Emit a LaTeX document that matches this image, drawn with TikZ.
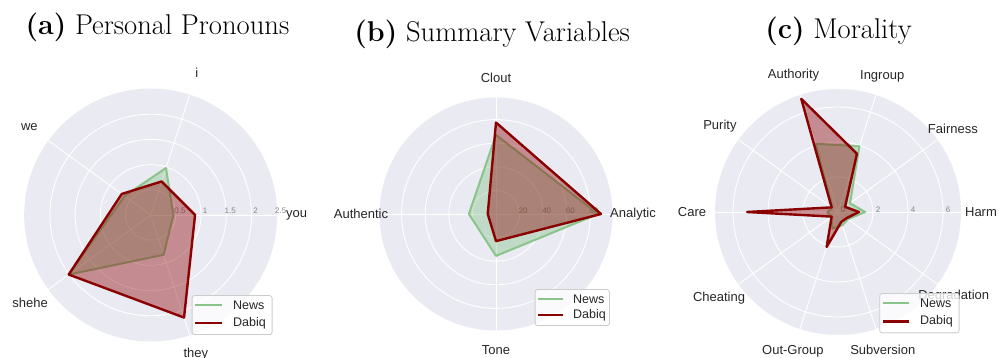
\documentclass[tikz,border=0pt]{standalone}
\usepackage{fontspec}
\newfontfamily\plotfont{Liberation Sans}
\definecolor{bgdisk}{RGB}{234,234,242}
\definecolor{labelgray}{RGB}{38,38,38}
\definecolor{tickgray}{RGB}{135,135,140}
\definecolor{newsline}{RGB}{138,196,138}
\definecolor{newsfillc}{RGB}{100,180,100}
\definecolor{dabiqred}{RGB}{139,0,0}
\definecolor{legendedge}{RGB}{204,204,204}
\begin{document}
\begin{tikzpicture}[x=1pt,y=1pt,
  disk/.style={fill=bgdisk},
  gridline/.style={draw=white,line width=0.9pt},
  ticklab/.style={font=\plotfont\fontsize{8}{9}\selectfont,text=tickgray,inner sep=0pt},
  axlab/.style={font=\plotfont\fontsize{13}{15}\selectfont,text=labelgray,inner sep=0pt},
  newsarea/.style={fill=newsfillc,fill opacity=0.3},
  newsedge/.style={draw=newsline,line width=2pt,line join=round},
  dabiqarea/.style={fill=dabiqred,fill opacity=0.4},
  dabiqedge/.style={draw=dabiqred,line width=2.4pt,line join=round},
  legbox/.style={draw=legendedge,line width=0.8pt,fill=white,fill opacity=0.8,rounded corners=2.5pt},
  legtext/.style={font=\plotfont\fontsize{12.5}{14}\selectfont,text=labelgray,anchor=west,inner sep=0pt},
  title/.style={font=\fontsize{28.6}{32}\selectfont,anchor=base,inner sep=0pt}]
\useasboundingbox (0,0) rectangle (999,358);

% ---------------- (a) Personal Pronouns ----------------
\node[title] (ta) at (157.5,323) {\textbf{(a)} Personal Pronouns};
\begin{scope}[shift={(150.7,143)}]
  \def\ua{50.4}
  \fill[disk] (0,0) circle (126.5);
  \foreach \r in {0.5,1,1.5,2} \draw[gridline] (0,0) circle ({\r*\ua});
  \foreach \a in {0,72,144,216,288} \draw[gridline] (0,0) -- (\a:126.5);
  \foreach \r/\t in {0.5/0.5,1/1,1.5/1.5,2/2,2.5/2.5}
    \node[ticklab] at ({\r*\ua+4},4.5) {\t};
  \path[newsarea] (0:{0.45*\ua}) -- (72:{0.98*\ua}) -- (144:{0.64*\ua}) -- (216:{2.01*\ua}) -- (288:{0.83*\ua}) -- cycle;
  \draw[newsedge] (0:{0.45*\ua}) -- (72:{0.98*\ua}) -- (144:{0.64*\ua}) -- (216:{2.01*\ua}) -- (288:{0.83*\ua}) -- cycle;
  \path[dabiqarea] (0:{0.88*\ua}) -- (72:{0.70*\ua}) -- (144:{0.71*\ua}) -- (216:{2.01*\ua}) -- (288:{2.14*\ua}) -- cycle;
  \draw[dabiqedge] (0:{0.88*\ua}) -- (72:{0.70*\ua}) -- (144:{0.71*\ua}) -- (216:{2.01*\ua}) -- (288:{2.14*\ua}) -- cycle;
  \node[axlab] (a-you) at (0:146) {you};
  \node[axlab] (a-i) at (72:149) {i};
  \node[axlab] (a-we) at (144:150) {we};
  \node[axlab] (a-shehe) at (216:149) {shehe};
  \node[axlab] (a-they) at (288:146) {they};
\end{scope}
% legend (a)
\node[legbox,minimum width=80pt,minimum height=39pt,anchor=south west] (lega) at (191.7,23) {};
\coordinate (la1) at (195,53);   \coordinate (la2) at (221.7,53);
\coordinate (la3) at (195,34.7); \coordinate (la4) at (221.7,34.7);
\draw[draw=newsline,line width=2pt] (la1) -- (la2);
\draw[draw=dabiqred,line width=2.4pt] (la3) -- (la4);
\node[legtext] (lan) at (233,53) {News};
\node[legtext] (lad) at (233,34.7) {Dabiq};

% ---------------- (b) Summary Variables ----------------
\node[title] (tb) at (492.2,316.3) {\textbf{(b)} Summary Variables};
\begin{scope}[shift={(496,144)}]
  \def\ub{1.18}
  \fill[disk] (0,0) circle (116.5);
  \foreach \r in {20,40,60,80} \draw[gridline] (0,0) circle ({\r*\ub});
  \foreach \a in {0,90,180,270} \draw[gridline] (0,0) -- (\a:116.5);
  \foreach \r in {20,40,60,80}
    \node[ticklab] at ({\r*\ub+3.5},3.5) {\r};
  \path[newsarea] (0:{86.5*\ub}) -- (90:{67*\ub}) -- (180:{23*\ub}) -- (270:{35.5*\ub}) -- cycle;
  \draw[newsedge] (0:{86.5*\ub}) -- (90:{67*\ub}) -- (180:{23*\ub}) -- (270:{35.5*\ub}) -- cycle;
  \path[dabiqarea] (0:{89*\ub}) -- (90:{77.5*\ub}) -- (180:{7*\ub}) -- (270:{23*\ub}) -- cycle;
  \draw[dabiqedge] (0:{89*\ub}) -- (90:{77.5*\ub}) -- (180:{7*\ub}) -- (270:{23*\ub}) -- cycle;
  \node[axlab] (b-an) at (0:137) {Analytic};
  \node[axlab] (b-cl) at (90:136) {Clout};
  \node[axlab] (b-au) at (180:135) {Authentic};
  \node[axlab] (b-to) at (270:136) {Tone};
\end{scope}
% legend (b)
\node[legbox,minimum width=74.3pt,minimum height=36pt,anchor=south west] (legb) at (534.7,32) {};
\coordinate (lb1) at (538,59);   \coordinate (lb2) at (563,59);
\coordinate (lb3) at (538,43);   \coordinate (lb4) at (563,43);
\draw[draw=newsline,line width=2pt] (lb1) -- (lb2);
\draw[draw=dabiqred,line width=2.4pt] (lb3) -- (lb4);
\node[legtext] (lbn) at (573,59) {News};
\node[legtext] (lbd) at (573,43) {Dabiq};

% ---------------- (c) Morality ----------------
\node[title] (tc) at (838.5,319.7) {\textbf{(c)} Morality};
\begin{scope}[shift={(838,146)}]
  \def\uc{17.5}
  \fill[disk] (0,0) circle (123);
  \foreach \r in {2,4,6} \draw[gridline] (0,0) circle ({\r*\uc});
  \foreach \a in {0,36,...,324} \draw[gridline] (0,0) -- (\a:123);
  \foreach \r in {0,2,4,6}
    \node[ticklab] at ({\r*\uc+5},2.5) {\r};
  \path[newsarea] (0:{1.55*\uc}) -- (36:{0.85*\uc}) -- (72:{3.95*\uc}) -- (108:{4.1*\uc}) -- (144:{0.4*\uc}) -- (180:{0.6*\uc}) -- (216:{0.5*\uc}) -- (252:{1.0*\uc}) -- (288:{0.8*\uc}) -- (324:{0.7*\uc}) -- cycle;
  \draw[newsedge] (0:{1.55*\uc}) -- (36:{0.85*\uc}) -- (72:{3.95*\uc}) -- (108:{4.1*\uc}) -- (144:{0.4*\uc}) -- (180:{0.6*\uc}) -- (216:{0.5*\uc}) -- (252:{1.0*\uc}) -- (288:{0.8*\uc}) -- (324:{0.7*\uc}) -- cycle;
  \path[dabiqarea] (0:{1.2*\uc}) -- (36:{0.5*\uc}) -- (72:{3.5*\uc}) -- (108:{6.8*\uc}) -- (144:{0.45*\uc}) -- (180:{5.2*\uc}) -- (216:{0.45*\uc}) -- (252:{2.1*\uc}) -- (288:{0.6*\uc}) -- (324:{0.6*\uc}) -- cycle;
  \draw[dabiqedge] (0:{1.2*\uc}) -- (36:{0.5*\uc}) -- (72:{3.5*\uc}) -- (108:{6.8*\uc}) -- (144:{0.45*\uc}) -- (180:{5.2*\uc}) -- (216:{0.45*\uc}) -- (252:{2.1*\uc}) -- (288:{0.6*\uc}) -- (324:{0.6*\uc}) -- cycle;
  \node[axlab] (c-harm) at (0:143) {Harm};
  \node[axlab] (c-fair) at (36:142) {Fairness};
  \node[axlab] (c-ing) at (72:143) {Ingroup};
  \node[axlab] (c-auth) at (108:144) {Authority};
  \node[axlab] (c-pur) at (144:146) {Purity};
  \node[axlab] (c-care) at (180:146) {Care};
  \node[axlab] (c-cheat) at (216:147) {Cheating};
  \node[axlab] (c-out) at (252:146) {Out-Group};
  \node[axlab] (c-sub) at (288:145) {Subversion};
  \node[axlab] (c-deg) at (324:143) {Degradation};
\end{scope}
% legend (c)
\node[legbox,minimum width=79.4pt,minimum height=39.3pt,anchor=south west] (legc) at (879.3,24.7) {};
\coordinate (lc1) at (883,54.7);   \coordinate (lc2) at (909,54.7);
\coordinate (lc3) at (883,36.3);   \coordinate (lc4) at (909,36.3);
\draw[draw=newsline,line width=2pt] (lc1) -- (lc2);
\draw[draw=dabiqred,line width=2.4pt] (lc3) -- (lc4);
\node[legtext] (lcn) at (920,54.7) {News};
\node[legtext] (lcd) at (920,36.3) {Dabiq};
\end{tikzpicture}
\end{document}
